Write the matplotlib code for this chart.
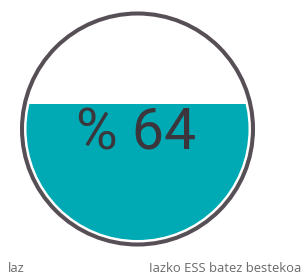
import numpy as np
import matplotlib
matplotlib.use("Agg")
import matplotlib.pyplot as plt
from matplotlib.patches import Circle, Rectangle

value = 64
value_label = "% 64"
left_label = "laz"
right_label = "Iazko ESS batez bestekoa"

W, H = 301, 273
fig = plt.figure(figsize=(W / 100, H / 100), dpi=100)
ax = fig.add_axes([0, 0, 1, 1])
ax.set_xlim(0, W)
ax.set_ylim(H, 0)
ax.axis("off")

cx, cy = 137.5, 129
r_fill = 111
r_ring = 115.5

# fill level: area fraction of circle equals value/100
def area_frac(t):
    th = 2 * np.arccos(1 - 2 * t)
    return (th - np.sin(th)) / (2 * np.pi)

lo, hi = 0.0, 1.0
for _ in range(60):
    mid = (lo + hi) / 2
    if area_frac(mid) < value / 100:
        lo = mid
    else:
        hi = mid
t = (lo + hi) / 2
level_y = cy + r_fill - 2 * r_fill * t

clip = Circle((cx, cy), r_fill, transform=ax.transData, facecolor="none", edgecolor="none")
ax.add_patch(clip)
rect = Rectangle((cx - r_fill - 2, level_y), 2 * r_fill + 4, (cy + r_fill + 2) - level_y,
                 facecolor="#00aab5", edgecolor="none")
ax.add_patch(rect)
rect.set_clip_path(clip)

ring = Circle((cx, cy), r_ring, facecolor="none", edgecolor="#574f56", linewidth=2.9)
ax.add_patch(ring)

ax.text(cx - 1.5, 150, value_label, ha="center", va="baseline", fontsize=41,
        family="Roboto", color="#3b363c")

ax.text(8, 271.5, left_label, ha="left", va="baseline", fontsize=9.4,
        family="Open Sans", color="#6a6a6a")
ax.text(301, 271.5, right_label, ha="right", va="baseline", fontsize=9.4,
        family="Open Sans", color="#6a6a6a")

fig.savefig("out.png", dpi=100)
